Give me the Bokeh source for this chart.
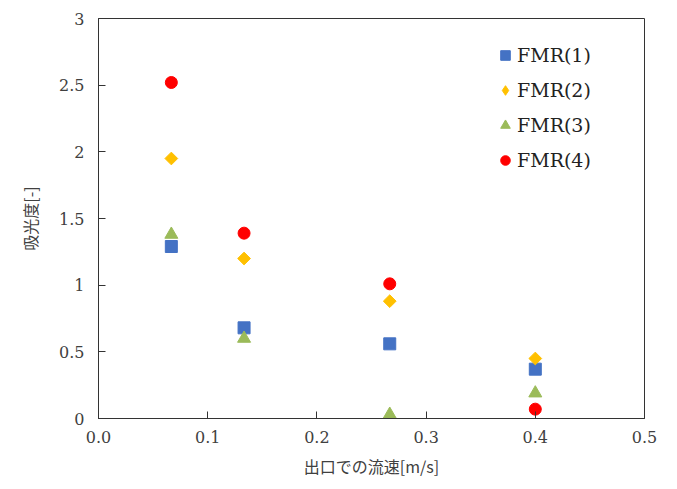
import math
from bokeh.plotting import figure
from bokeh.models import Legend, LegendItem, FixedTicker, NumeralTickFormatter
from bokeh.embed import file_html
from bokeh.resources import INLINE

# data
flow_speed = [0.0667, 0.1333, 0.2667, 0.4]
fmr1 = [1.29, 0.68, 0.56, 0.37]
fmr2 = [1.95, 1.20, 0.88, 0.45]
fmr3 = [1.38, 0.60, 0.03, 0.19]
fmr4 = [2.52, 1.39, 1.01, 0.07]
series_names = ["FMR(1)", "FMR(2)", "FMR(3)", "FMR(4)"]
x_ticks = [0.0, 0.1, 0.2, 0.3, 0.4, 0.5]
y_ticks = [0, 0.5, 1, 1.5, 2, 2.5, 3]

SERIF = "DejaVu Serif"
CJK = "Noto Sans CJK JP"

p = figure(width=661, height=473, output_backend="svg", toolbar_location=None,
           x_range=(0, 0.5), y_range=(0, 3),
           min_border_left=98, min_border_right=17, min_border_top=18, min_border_bottom=55)
p.frame_width = 546
p.frame_height = 400

p.xgrid.visible = False
p.ygrid.visible = False
p.outline_line_color = "#333333"
p.outline_line_width = 1
p.background_fill_color = "white"
p.border_fill_color = "white"

r1 = p.scatter(flow_speed, fmr1, marker="square", size=12, fill_color="#4472C4", line_color="#4472C4")
r2 = p.scatter(flow_speed, fmr2, marker="square", size=9, angle=math.pi / 4,
               fill_color="#FFC000", line_color="#FFC000")
r3 = p.scatter(flow_speed, fmr3, marker="triangle", size=13, fill_color="#9BBB59", line_color="#9BBB59")
r4 = p.scatter(flow_speed, fmr4, marker="circle", size=12, fill_color="#FF0000", line_color="#FF0000")
# legend key for the diamond series (legend glyphs are drawn unrotated, size set by the legend box)
r2_key = p.scatter(flow_speed, fmr2, marker="diamond", size=0, fill_color="#FFC000", line_color="#FFC000")

for ax in (p.xaxis[0], p.yaxis[0]):
    ax.axis_line_color = "#333333"
    ax.major_tick_line_color = "#333333"
    ax.minor_tick_line_color = None
    ax.major_tick_in = 7
    ax.major_tick_out = 0
    ax.major_label_text_font = SERIF
    ax.major_label_text_font_size = "16px"
    ax.major_label_text_color = "#404040"
    ax.axis_label_text_font = CJK
    ax.axis_label_text_font_size = "16px"
    ax.axis_label_text_font_style = "normal"
    ax.axis_label_text_color = "#404040"

p.xaxis.ticker = FixedTicker(ticks=x_ticks)
p.xaxis.formatter = NumeralTickFormatter(format="0.0")
p.yaxis.ticker = FixedTicker(ticks=y_ticks)
p.xaxis.major_label_standoff = 12
p.yaxis.major_label_standoff = 14
p.xaxis.axis_label = "出口での流速[m/s]"
p.yaxis.axis_label = "吸光度[-]"
p.xaxis.axis_label_standoff = 8
p.yaxis.axis_label_standoff = 14

legend = Legend(items=[LegendItem(label=series_names[0], renderers=[r1]),
                       LegendItem(label=series_names[1], renderers=[r2_key]),
                       LegendItem(label=series_names[2], renderers=[r3]),
                       LegendItem(label=series_names[3], renderers=[r4])],
                location=(395, 246))
legend.border_line_color = None
legend.background_fill_alpha = 0
legend.padding = 0
legend.margin = 0
legend.spacing = 11
legend.label_height = 24
legend.glyph_height = 24
legend.glyph_width = 24
legend.label_standoff = 0
legend.label_text_font = SERIF
legend.label_text_font_size = "19px"
legend.label_text_color = "#222222"
p.add_layout(legend)

open("out.html", "w").write(file_html(p, INLINE))
